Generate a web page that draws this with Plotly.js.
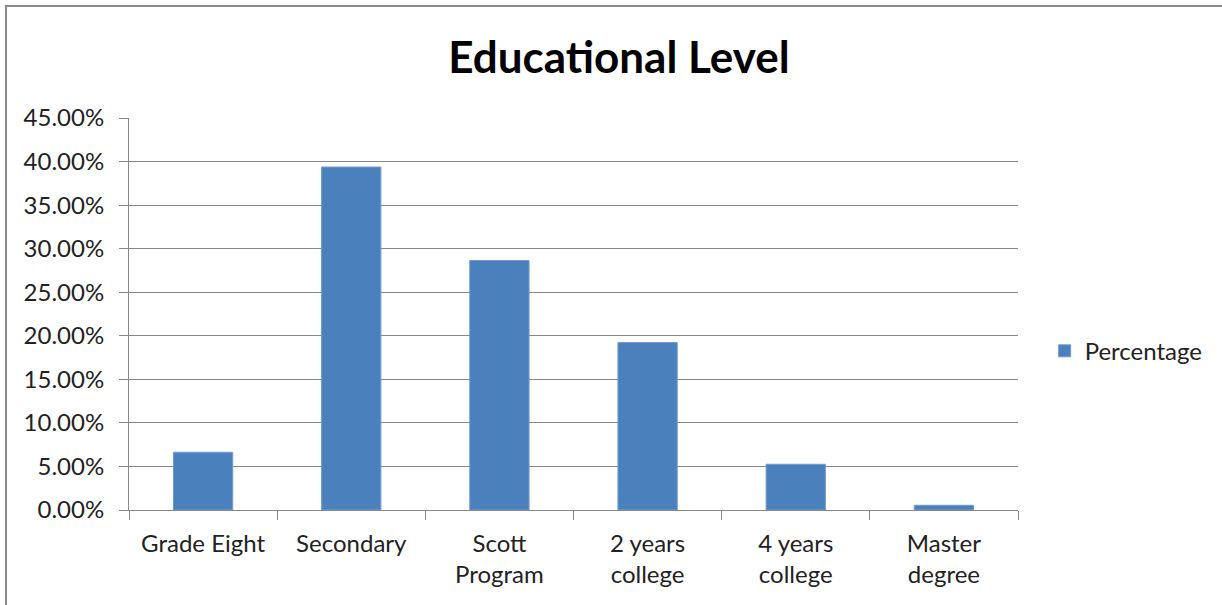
<!DOCTYPE html>
<html>
<head>
<meta charset="utf-8">
<script src="https://cdn.plot.ly/plotly-3.0.1.min.js"></script>
<style>
  html, body { margin: 0; padding: 0; background: #fff; overflow: hidden; }
  #chart { width: 1222px; height: 605px; }
  #frame {
    position: absolute; left: 5px; top: 5px; width: 1300px; height: 700px;
    border-left: 2px solid #8a8a8a; border-top: 2px solid #8a8a8a;
    pointer-events: none;
  }
</style>
</head>
<body>
<div id="chart"></div>
<div id="frame"></div>
<script>
// Educational level distribution
const categories = [
  "Grade Eight",
  "Secondary",
  "Scott<br>Program",
  "2 years<br>college",
  "4 years<br>college",
  "Master<br>degree"
];
const percentage = [0.0663, 0.3937, 0.2864, 0.1922, 0.0525, 0.0054];
const seriesName = "Percentage";
const titleText = "Educational Level";

const font = "Lato, 'Open Sans', sans-serif";

const trace = {
  type: "bar",
  x: categories,
  y: percentage,
  name: seriesName,
  marker: { color: "#4a81bd", line: { color: "#6f9ad0", width: 1 } },
  showlegend: true,
  hoverinfo: "x+y"
};

const layout = {
  width: 1222,
  height: 605,
  margin: { l: 129, r: 204, t: 118, b: 95 },
  paper_bgcolor: "#ffffff",
  plot_bgcolor: "#ffffff",
  font: { family: font, color: "#222", size: 24 },
  title: {
    text: "<b>" + titleText + "</b>",
    font: { family: font, size: 44, color: "#000" },
    xref: "container", x: 0.5065, xanchor: "center",
    yref: "container", y: 0.905, yanchor: "middle"
  },
  bargap: 0.6,
  xaxis: {
    type: "category",
    showgrid: false,
    showline: true,
    linecolor: "#888",
    linewidth: 1,
    ticks: "outside",
    tickson: "boundaries",
    ticklen: 9,
    tickcolor: "#888",
    ticklabelstandoff: 12,
    tickfont: { family: font, size: 24, color: "#222" },
    zeroline: false
  },
  yaxis: {
    range: [0, 0.45],
    dtick: 0.05,
    tick0: 0,
    tickformat: ".2%",
    showgrid: true,
    gridcolor: "#878787",
    gridwidth: 1,
    showline: true,
    linecolor: "#888",
    linewidth: 1,
    ticks: "outside",
    ticklen: 9,
    tickcolor: "#888",
    ticklabelstandoff: 10,
    tickfont: { family: font, size: 24, color: "#222" },
    zeroline: false,
    fixedrange: true
  },
  legend: {
    x: 1.03, xanchor: "left",
    y: 0.405, yanchor: "middle",
    font: { family: font, size: 24, color: "#222" },
    itemwidth: 30,
    bgcolor: "rgba(0,0,0,0)"
  }
};

Plotly.newPlot("chart", [trace], layout, { displayModeBar: false, staticPlot: true });
</script>
</body>
</html>
